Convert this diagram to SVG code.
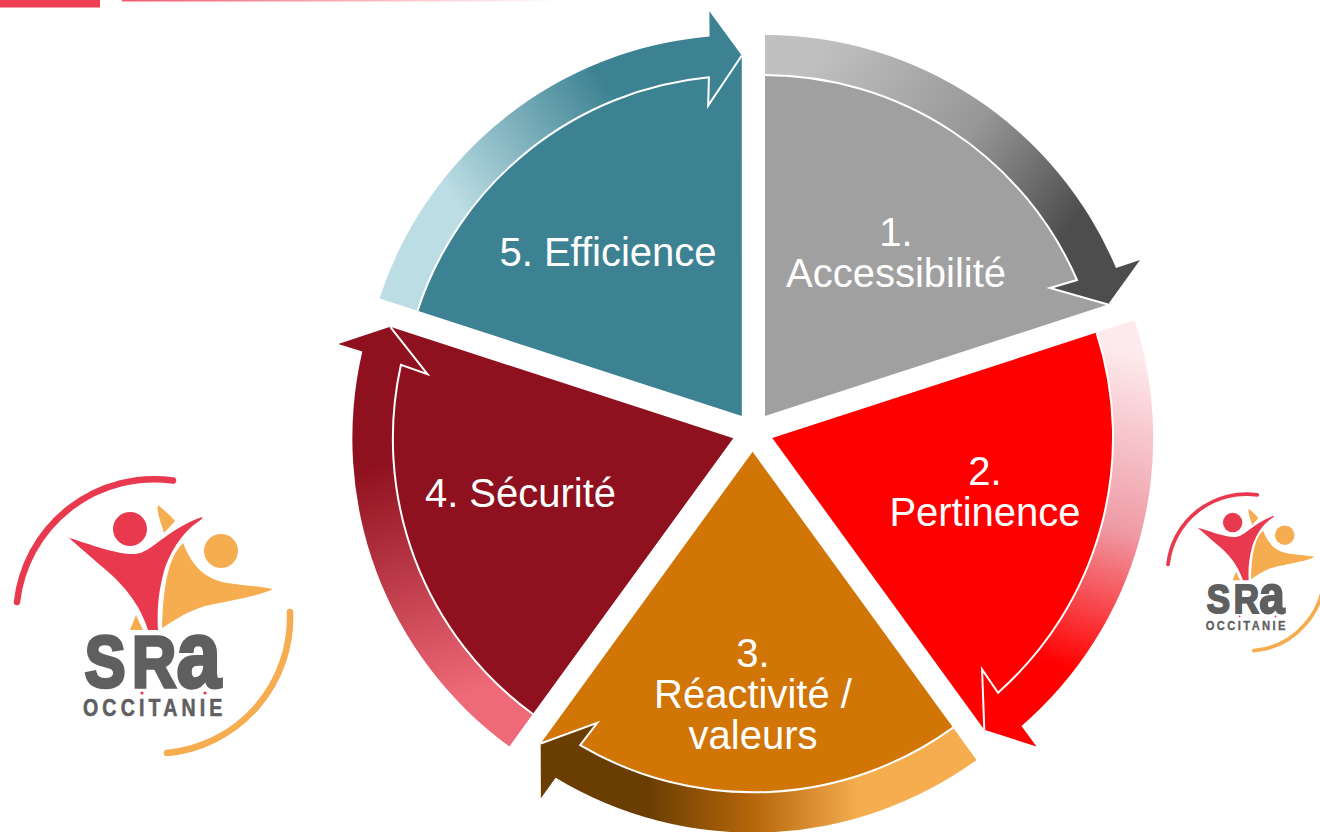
<svg xmlns="http://www.w3.org/2000/svg" xmlns:xlink="http://www.w3.org/1999/xlink" width="1320" height="832" viewBox="0 0 1320 832">
<style>
.lbl{font-family:"Liberation Sans",Arial,sans-serif;font-size:40px;fill:#fff;text-anchor:middle}
.edge{fill:none;stroke:#fff;stroke-width:2;stroke-linejoin:miter}
.sra{font-family:"Liberation Sans",Arial,sans-serif;font-weight:700;fill:#5f5f5f;stroke:#5f5f5f;stroke-width:3.500}
.occ{font-family:"Liberation Sans",Arial,sans-serif;font-weight:700;fill:#5f5f5f;stroke:#5f5f5f;stroke-width:.6}
</style>
<defs>
<linearGradient id="gTop" gradientUnits="userSpaceOnUse" x1="122" y1="0" x2="560" y2="0"><stop offset="0" stop-color="#ef5a6e"/><stop offset="1" stop-color="#fff"/></linearGradient>
<linearGradient id="g1" gradientUnits="userSpaceOnUse" x1="765" y1="55" x2="1108" y2="305"><stop offset=".1" stop-color="#c0c0c0"/><stop offset=".5" stop-color="#979797"/><stop offset=".82" stop-color="#4d4d4d"/></linearGradient>
<linearGradient id="g2" gradientUnits="userSpaceOnUse" x1="765" y1="55" x2="1108" y2="305"><stop offset=".05" stop-color="#fdeaec"/><stop offset=".45" stop-color="#ef9ba6"/><stop offset=".8" stop-color="#ff0000"/></linearGradient>
<linearGradient id="g3" gradientUnits="userSpaceOnUse" x1="765" y1="55" x2="1108" y2="305"><stop offset=".25" stop-color="#f5ad50"/><stop offset=".5" stop-color="#b5660a"/><stop offset=".75" stop-color="#6a3d03"/></linearGradient>
<linearGradient id="g4" gradientUnits="userSpaceOnUse" x1="765" y1="55" x2="1108" y2="305"><stop offset=".12" stop-color="#ef6a79"/><stop offset=".7" stop-color="#8f101e"/></linearGradient>
<linearGradient id="g5" gradientUnits="userSpaceOnUse" x1="765" y1="55" x2="1108" y2="305"><stop offset=".25" stop-color="#bcdde4"/><stop offset=".7" stop-color="#3d8292"/></linearGradient>
<path id="band" d="M765 35A381 381 0 0 1 1116 268L1140 260L1108 304.5L1050 288L1077 280A341 341 0 0 0 765 75Z"/>
<path id="body" d="M765 416V75A341 341 0 0 1 1077 280L1050 288L1108 304.5Z"/>
<path id="rim" d="M765 75A341 341 0 0 1 1077 280L1050 288L1108 304.5"/>
<g id="art">
<path d="M173 480.500A138 138 0 0 0 17 602" fill="none" stroke="#e8394f" stroke-width="6.500" stroke-linecap="round"/>
<path d="M290 612A136 136 0 0 1 167 753" fill="none" stroke="#f5ad50" stroke-width="6.500" stroke-linecap="round"/>
<circle cx="130" cy="529" r="17" fill="#e8394f"/>
<circle cx="221" cy="551" r="17" fill="#f5ad50"/>
<path d="M183 543C190 560 200 578 227 583C245 586 262 586 273 589C262 595 235 600 205 606C185 612 172 622 162 628C163 600 165 560 183 543Z" fill="#f5ad50"/>
<path d="M158 505C165 511 172 517 175 521L164 533C162 525 156 512 158 505Z" fill="#f5ad50"/>
<path d="M136 615L143 630H130Z" fill="#f5ad50"/>
<path d="M69 538C85 542 115 555 135 554C152 553 165 530 202 517C203 519 200 520 198 522C182 532 168 555 163 575C158 595 157 612 158 630L148 630C140 605 125 585 100 565Z" fill="#e8394f"/>
<circle cx="142" cy="693" r="1.600" fill="#e8394f"/>
<circle cx="205" cy="693" r="1.600" fill="#e8394f"/>
</g>
</defs>
<rect width="1320" height="832" fill="#fff"/>
<rect x="0" y="0" width="100" height="7.500" fill="#ef3f55"/>
<rect x="122" y="0" width="438" height="1.500" fill="url(#gTop)"/>
<g id="connectors">
<use href="#band" fill="url(#g1)"/>
<use href="#band" fill="url(#g2)" transform="rotate(72 753.500 432)"/>
<use href="#band" fill="url(#g3)" transform="translate(-1 0) rotate(144 753.500 432)"/>
<use href="#band" fill="url(#g4)" transform="translate(-1.500 0) rotate(216 753.500 432)"/>
<use href="#band" fill="url(#g5)" transform="rotate(288 753.500 432)"/>
</g>
<g id="node-1"><use href="#body" fill="#a0a0a0"/><use href="#rim" class="edge"/><text class="lbl"><tspan x="896" y="246">1.</tspan><tspan x="896" y="287">Accessibilité</tspan></text></g>
<g id="node-2"><use href="#body" fill="#ff0000" transform="rotate(72 753.500 432)"/><use href="#rim" class="edge" transform="rotate(72 753.500 432)"/><text class="lbl"><tspan x="985" y="485">2.</tspan><tspan x="985" y="526">Pertinence</tspan></text></g>
<g id="node-3"><use href="#body" fill="#d17506" transform="translate(-1 0) rotate(144 753.500 432)"/><use href="#rim" class="edge" transform="translate(-1 0) rotate(144 753.500 432)"/><text class="lbl"><tspan x="753" y="667">3.</tspan><tspan x="753" y="708">Réactivité /</tspan><tspan x="753" y="749">valeurs</tspan></text></g>
<g id="node-4"><use href="#body" fill="#8f101e" transform="translate(-1.500 0) rotate(216 753.500 432)"/><use href="#rim" class="edge" transform="translate(-1.500 0) rotate(216 753.500 432)"/><text class="lbl" x="520.500" y="507">4. Sécurité</text></g>
<g id="node-5"><use href="#body" fill="#3d8292" transform="rotate(288 753.500 432)"/><use href="#rim" class="edge" transform="rotate(288 753.500 432)"/><text class="lbl" x="608" y="266">5. Efficience</text></g>
<g id="logo-left">
<use href="#art"/>
<text class="sra" transform="translate(83 687) scale(.85 1)" font-size="72"><tspan x="2" y="0">S</tspan><tspan x="57.600" y="0">R</tspan><tspan x="110" y="0" font-size="94">a</tspan></text>
<text class="occ" transform="translate(83 716) scale(.85 1)" font-size="23" textLength="164">OCCITANIE</text>
</g>
<g id="logo-right" transform="translate(1158.300 220) scale(.572)">
<use href="#art"/>
<text class="sra" transform="translate(83 687) scale(.85 1)" font-size="72"><tspan x="2" y="0">S</tspan><tspan x="57.600" y="0">R</tspan><tspan x="110" y="0" font-size="94">a</tspan></text>
<text class="occ" transform="translate(83 716) scale(.85 1)" font-size="23" textLength="164">OCCITANIE</text>
</g>
</svg>
